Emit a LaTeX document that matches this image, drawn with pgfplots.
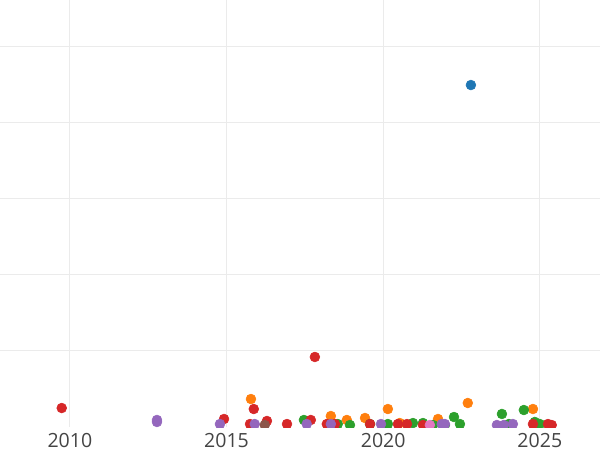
\documentclass[border=0pt]{standalone}
\usepackage{pgfplots}
\pgfplotsset{compat=1.18}
\usepackage{fontspec}
\setmainfont{Open Sans}

\definecolor{cblue}{HTML}{1F77B4}
\definecolor{corange}{HTML}{FF7F0E}
\definecolor{cgreen}{HTML}{2CA02C}
\definecolor{cred}{HTML}{D62728}
\definecolor{cpurple}{HTML}{9467BD}
\definecolor{cbrown}{HTML}{8C564B}
\definecolor{cpink}{HTML}{E377C2}
\definecolor{gridc}{RGB}{235,235,235}
\definecolor{tickc}{HTML}{444444}

\begin{document}
\begin{tikzpicture}
\begin{axis}[
    at={(0,0)}, anchor=south west,
    scale only axis,
    width=15cm, height=10.675cm,
    xmin=2007.77, xmax=2026.92,
    ymin=0, ymax=5.604,
    xtick={2010,2015,2020,2025},
    ytick={1,2,3,4,5},
    yticklabels={},
    xticklabel={\pgfmathprintnumber[1000 sep={}]{\tick}},
    /pgf/number format/assume math mode=true,
    xmajorgrids, ymajorgrids,
    grid style={gridc, line width=0.025cm},
    axis line style={draw=none},
    major tick length=0pt,
    clip marker paths=true,
    xticklabel style={anchor=north, inner sep=0pt, yshift=-0.15cm,
        font=\fontsize{13.9}{16}\selectfont, text=tickc},
    every axis plot/.append style={only marks, mark=*, mark size=3.5pt},
]
% blue
\addplot[cblue, mark options={draw=none, fill=cblue}] coordinates {(2022.80,4.488)};
% orange
\addplot[corange, mark options={draw=none, fill=corange}] coordinates {
(2015.78,0.367) (2018.33,0.144) (2018.84,0.092) (2019.42,0.118) (2020.15,0.236)
(2020.53,0.052) (2021.75,0.105) (2022.70,0.315) (2024.78,0.236)};
% green
\addplot[cgreen, mark options={draw=none, fill=cgreen}] coordinates {
(2017.47,0.092) (2018.55,0.039) (2018.94,0.026) (2019.58,0.039) (2020.15,0.039)
(2020.95,0.052) (2021.27,0.052) (2021.59,0.026) (2021.97,0.026) (2022.26,0.131)
(2022.45,0.039) (2023.79,0.171) (2024.01,0.039) (2024.49,0.223) (2024.84,0.066)
(2025.00,0.039)};
% red
\addplot[cred, mark options={draw=none, fill=cred}] coordinates {
(2009.74,0.249) (2014.92,0.105) (2015.75,0.039) (2015.87,0.236) (2016.29,0.079)
(2016.93,0.039) (2017.69,0.092) (2017.82,0.919) (2018.20,0.039) (2018.46,0.039)
(2019.58,0.039) (2020.47,0.039) (2020.76,0.039) (2021.27,0.026) (2024.78,0.039)
(2025.26,0.039) (2025.38,0.026)};
% purple
\addplot[cpurple, mark options={draw=none, fill=cpurple}] coordinates {
(2012.78,0.092) (2012.78,0.066) (2014.79,0.039) (2015.90,0.039) (2017.56,0.039)
(2018.33,0.039) (2019.93,0.039) (2021.87,0.039) (2021.97,0.039) (2023.63,0.026)
(2023.85,0.026) (2024.14,0.039)};
% brown
\addplot[cbrown, mark options={draw=none, fill=cbrown}] coordinates {(2016.22,0.026)};
% pink
\addplot[cpink, mark options={draw=none, fill=cpink}] coordinates {(2021.49,0.026)};
\end{axis}
\pgfresetboundingbox
\useasboundingbox (0,-0.575) rectangle (15,10.675);
\end{tikzpicture}
\end{document}
